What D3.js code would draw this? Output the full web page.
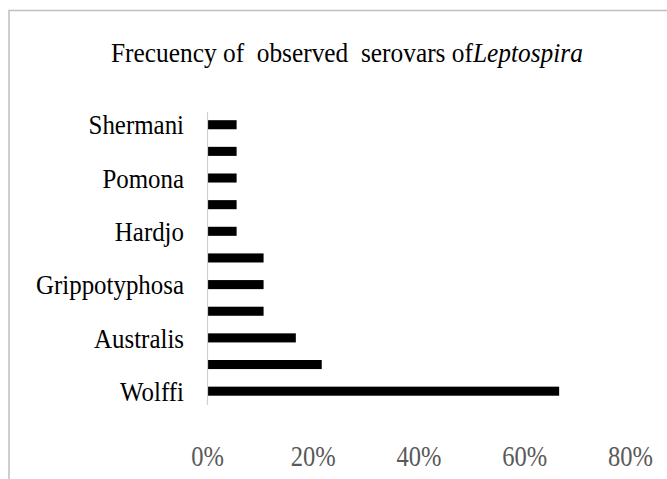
<!DOCTYPE html>
<html>
<head>
<meta charset="utf-8">
<script src="https://cdn.jsdelivr.net/npm/d3@7"></script>
<style>
  body { margin: 0; background: #fff; }
  svg { display: block; font-family: "Liberation Serif", "DejaVu Serif", serif; }
</style>
</head>
<body>
<script>
// serovars, top to bottom (only every other name is printed on the chart)
var serovars = ["Shermani", "", "Pomona", "", "Hardjo", "", "Grippotyphosa", "", "Australis", "", "Wolffi"];
// share of observations (%)
var frequency = [5.6, 5.6, 5.6, 5.6, 5.6, 10.7, 10.7, 10.7, 16.8, 21.7, 66.6];
var tickValues = [0, 20, 40, 60, 80];

var width = 667, height = 479;

var svg = d3.select("body").append("svg")
    .attr("width", width)
    .attr("height", height);

// chart frame (only top and left edges fall inside the picture)
svg.append("path")
    .attr("d", "M9,479V10.5H667")
    .attr("fill", "none")
    .attr("stroke", "#bfbfbf")
    .attr("stroke-width", 1.5);

var x = d3.scaleLinear()
    .domain([0, 80])
    .range([207, 630]);

var y = d3.scaleBand()
    .domain(d3.range(serovars.length))
    .range([111.4, 404.5])
    .paddingInner(0.66)
    .paddingOuter(0.33);

// bars
svg.append("g").selectAll("rect")
    .data(frequency)
    .enter().append("rect")
    .attr("x", x(0))
    .attr("y", function(d, i){ return y(i); })
    .attr("width", function(d){ return x(d) - x(0); })
    .attr("height", y.bandwidth())
    .attr("fill", "#000");

// category axis
var yAxis = svg.append("g")
    .attr("transform", "translate(" + x(0) + ",0)")
    .call(d3.axisLeft(y).tickSize(0).tickFormat(function(i){ return serovars[i]; }));

yAxis.select(".domain").attr("stroke", "#d0d0d0").attr("stroke-width", 1.2);
yAxis.selectAll("text")
    .attr("font-size", 27)
    .attr("font-family", "Liberation Serif")
    .attr("fill", "#000")
    .attr("x", 0)
    .attr("dy", "0.36em");

// squeeze the labels horizontally like the original condensed face
var gripWidth = 0;
yAxis.selectAll("text").each(function(i){
    if (serovars[i] === "Grippotyphosa") gripWidth = this.getComputedTextLength();
});
var labelScale = 148 / gripWidth;
yAxis.selectAll("text")
    .attr("transform", "translate(-23,0) scale(" + labelScale + ",1)");

// value axis
var xAxis = svg.append("g")
    .attr("transform", "translate(0,466)")
    .call(d3.axisBottom(x)
        .tickValues(tickValues)
        .tickSize(0)
        .tickFormat(function(d){ return d + "%"; }));

xAxis.select(".domain").remove();
xAxis.selectAll("text")
    .attr("font-size", 30)
    .attr("font-family", "Liberation Serif")
    .attr("fill", "#595959")
    .attr("y", 0)
    .attr("dy", 0);

var pctWidth = 0;
xAxis.selectAll("text").each(function(d){
    if (d === 80) pctWidth = this.getComputedTextLength();
});
xAxis.selectAll("text")
    .attr("transform", "scale(" + (45 / pctWidth) + ",1)");

// title
var title = svg.append("text")
    .attr("font-size", 27)
    .attr("fill", "#000")
    .style("white-space", "pre");

title.append("tspan").text("Frecuency of  observed  serovars of");
title.append("tspan").attr("font-style", "italic").text("Leptospira");

var titleWidth = title.node().getComputedTextLength();
title.attr("transform", "translate(111,62) scale(" + (472 / titleWidth) + ",1)");
</script>
</body>
</html>
